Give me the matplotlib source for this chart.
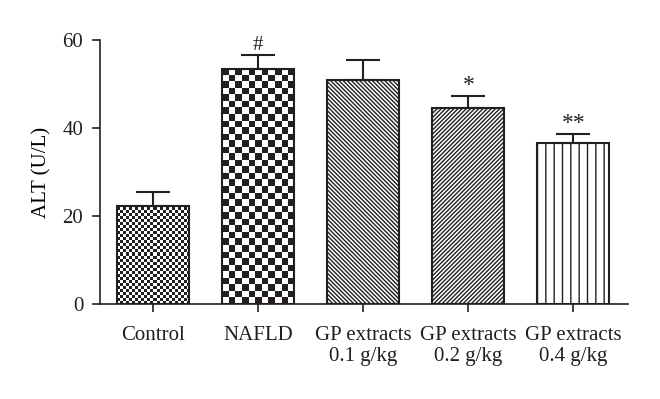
import matplotlib
matplotlib.use("Agg")
import matplotlib.pyplot as plt
import numpy as np

plt.rcParams['font.family'] = ['Liberation Serif', 'DejaVu Serif']
plt.rcParams['font.size'] = 15

# data
groups = ["Control", "NAFLD", "GP extracts\n0.1 g/kg",
          "GP extracts\n0.2 g/kg", "GP extracts\n0.4 g/kg"]
alt_mean = [22.3, 53.4, 50.9, 44.5, 36.5]
alt_err = [3.1, 3.2, 4.5, 2.8, 2.1]
marks = ["", "#", "", "*", "**"]

INK = '#231f20'

fig = plt.figure(figsize=(6.6, 3.99), dpi=100)
ax = fig.add_axes([100 / 660, 95 / 399, 528 / 660, 264 / 399])

x = np.arange(len(groups))
bars = ax.bar(x, alt_mean, width=0.686, color='white', edgecolor=INK,
              linewidth=1.5, zorder=2)

ax.set_xlim(-0.505, 4.52)
ax.set_ylim(0, 60)

# hatches for the three extract groups
plt.rcParams['hatch.linewidth'] = 0.8
plt.rcParams['hatch.color'] = '#3a3536'
bars[2].set_hatch('\\' * 8)
bars[3].set_hatch('/' * 8)
bars[4].set_hatch('||')


def checker_fill(bar, ncol):
    """checkerboard image clipped to a bar, square cells in pixels"""
    (x0, y0), (x1, y1) = ax.transData.transform(
        [(bar.get_x(), 0), (bar.get_x() + bar.get_width(), bar.get_height())])
    cell = (x1 - x0) / ncol
    nrow = int(round((y1 - y0) / cell)) + 1
    ii, jj = np.indices((nrow, ncol))
    board = (ii + jj) % 2
    top = cell * nrow / (y1 - y0) * bar.get_height()
    bar.set_facecolor('none')
    im = ax.imshow(board, cmap=matplotlib.colors.ListedColormap(['white', INK]),
                   extent=(bar.get_x(), bar.get_x() + bar.get_width(),
                           top, 0), origin='upper',
                   interpolation='nearest', aspect='auto', zorder=1.5)
    im.set_clip_path(bar)


checker_fill(bars[0], 24)
checker_fill(bars[1], 11)
ax.set_xlim(-0.505, 4.52)
ax.set_ylim(0, 60)

ax.errorbar(x, alt_mean, yerr=[np.zeros(len(x)), alt_err], fmt='none',
            ecolor=INK, elinewidth=1.5, capsize=12.5, capthick=1.5, zorder=3)

for xi, m, s, lab in zip(x, alt_mean, alt_err, marks):
    if lab:
        fs = 15 if lab == '#' else 17
        ax.text(xi, m + s + 1.2, lab, ha='center', va='baseline',
                fontsize=fs, color=INK)

ax.set_xticks(x)
ax.set_xticklabels(groups, linespacing=1.1)
ax.set_yticks([0, 20, 40, 60])
ax.set_ylabel('ALT (U/L)', labelpad=8)

for side in ('top', 'right'):
    ax.spines[side].set_visible(False)
for side in ('left', 'bottom'):
    ax.spines[side].set_linewidth(1.2)
    ax.spines[side].set_color(INK)
ax.tick_params(axis='both', length=6, width=1.2, color=INK, labelcolor=INK)
ax.tick_params(axis='x', pad=10)
ax.tick_params(axis='y', pad=6)

fig.savefig('out.png', dpi=100)
